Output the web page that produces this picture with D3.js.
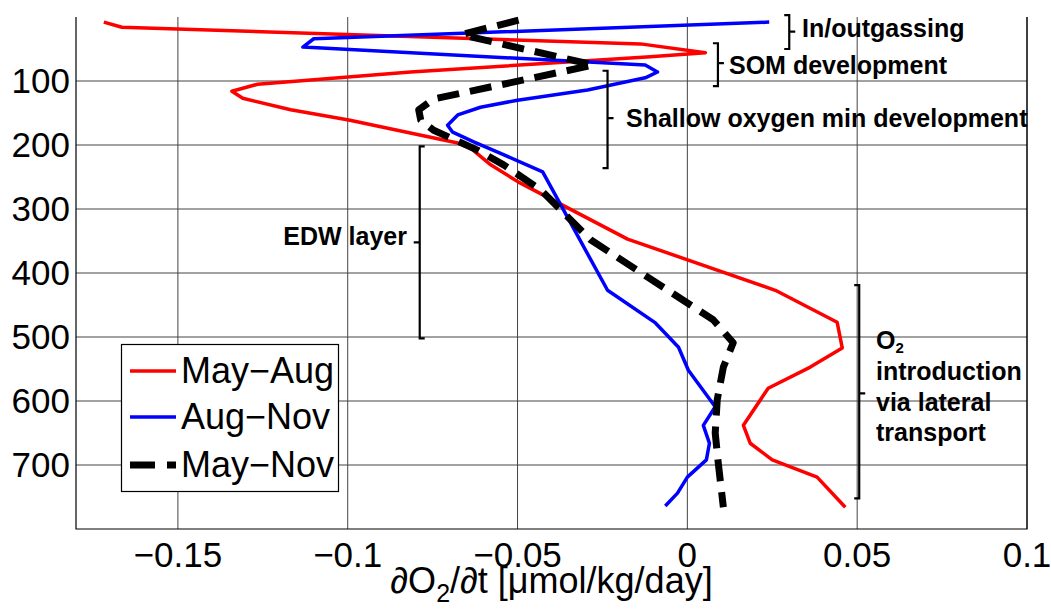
<!DOCTYPE html>
<html>
<head>
<meta charset="utf-8">
<script src="https://cdn.jsdelivr.net/npm/d3@7"></script>
<style>
  body { margin: 0; background: #fff; }
  svg { display: block; }
  text { font-family: "Liberation Sans", Arial, Helvetica, sans-serif; }
</style>
</head>
<body>
<svg id="chart" width="1051" height="610"></svg>
<script>
// values: dO2/dt (umol/kg/day) vs depth (m)
var mayAugRate  = [-0.1718, -0.1665, -0.0138, 0.0053, -0.0109, -0.0815, -0.1265, -0.1341, -0.1309, -0.1168, -0.0997, -0.0676, -0.0638, -0.0579, -0.0497, -0.0176, 0.0259, 0.0441, 0.0456, 0.0362, 0.0238, 0.0165, 0.0185, 0.0250, 0.0382, 0.0465];
var mayAugDepth = [8, 16, 42, 56, 62, 86, 105, 116, 127, 145, 161, 197, 205, 231, 258, 347, 427, 477, 517, 547, 580, 638, 666, 692, 719, 766];

var augNovRate  = [0.0241, -0.1100, -0.1132, -0.0124, -0.0088, -0.0124, -0.0294, -0.0500, -0.0609, -0.0676, -0.0706, -0.0691, -0.0629, -0.0550, -0.0426, -0.0235, -0.0094, -0.0026, 0.0003, 0.0082, 0.0047, 0.0065, 0.0056, 0.0000, -0.0029, -0.0065];
var augNovDepth = [8, 34, 47, 75, 86, 95, 114, 130, 141, 153, 169, 180, 195, 213, 242, 427, 478, 516, 552, 609, 638, 666, 692, 719, 744, 764];

var mayNovRate  = [-0.0497, -0.0662, -0.0638, -0.0276, -0.0550, -0.0747, -0.0791, -0.0785, -0.0747, -0.0618, -0.0541, -0.0432, -0.0285, -0.0118, 0.0076, 0.0135, 0.0106, 0.0088, 0.0082, 0.0091, 0.0106];
var mayNovDepth = [5, 27, 31, 75, 106, 128, 145, 161, 177, 208, 231, 270, 348, 406, 473, 509, 547, 598, 650, 697, 766];

var seriesNames = ["May\u2212Aug", "Aug\u2212Nov", "May\u2212Nov"];
var xTicks = [-0.15, -0.1, -0.05, 0, 0.05, 0.1];
var xTickLabels = ["\u22120.15", "\u22120.1", "\u22120.05", "0", "0.05", "0.1"];
var yTicks = [100, 200, 300, 400, 500, 600, 700];

var svg = d3.select("#chart");
var x = d3.scaleLinear().domain([-0.18, 0.1]).range([76, 1027]);
var y = d3.scaleLinear().domain([0, 800]).range([17, 529]);

// grid lines
var grid = svg.append("g");
grid.selectAll(".gx").data(xTicks).enter().append("line")
    .attr("x1", function (d) { return x(d); }).attr("x2", function (d) { return x(d); })
    .attr("y1", y(0)).attr("y2", y(800))
    .attr("stroke", "#444").attr("stroke-width", 1);
grid.selectAll(".gy").data(yTicks).enter().append("line")
    .attr("x1", x(-0.18)).attr("x2", x(0.1))
    .attr("y1", function (d) { return y(d); }).attr("y2", function (d) { return y(d); })
    .attr("stroke", "#444").attr("stroke-width", 1);

// axis frame (left + bottom)
svg.append("path")
    .attr("d", "M" + x(-0.18) + "," + y(0) + "V" + y(800) + "H" + x(0.1) + "V" + y(0))
    .attr("fill", "none").attr("stroke", "#000").attr("stroke-width", 1.2);

// tick labels
svg.selectAll(".xl").data(xTicks).enter().append("text")
    .attr("x", function (d) { return x(d); })
    .attr("y", 567)
    .attr("text-anchor", "middle")
    .attr("font-size", 35)
    .text(function (d, i) { return xTickLabels[i]; });
svg.selectAll(".yl").data(yTicks).enter().append("text")
    .attr("x", 70)
    .attr("y", function (d) { return y(d) + 12; })
    .attr("text-anchor", "end")
    .attr("font-size", 35)
    .text(function (d) { return d; });

// x axis label (overlaps the tick labels, like the original)
var xl = svg.append("text")
    .attr("x", (x(-0.18) + x(0.1)) / 2)
    .attr("y", 593)
    .attr("text-anchor", "middle")
    .attr("font-size", 36);
xl.append("tspan").text("\u2202O");
xl.append("tspan").attr("font-size", 25).attr("dy", 9).text("2");
xl.append("tspan").attr("dy", -9).text("/\u2202t [\u03bcmol/kg/day]");

// profiles
function pairs(rate, depth) {
    return rate.map(function (r, i) { return [r, depth[i]]; });
}
var line = d3.line()
    .x(function (d) { return x(d[0]); })
    .y(function (d) { return y(d[1]); });

svg.append("path").datum(pairs(mayAugRate, mayAugDepth))
    .attr("d", line).attr("fill", "none")
    .attr("stroke", "#ff0000").attr("stroke-width", 3.5).attr("stroke-linejoin", "round");
svg.append("path").datum(pairs(augNovRate, augNovDepth))
    .attr("d", line).attr("fill", "none")
    .attr("stroke", "#0000ff").attr("stroke-width", 3.5).attr("stroke-linejoin", "round");
svg.append("path").datum(pairs(mayNovRate, mayNovDepth))
    .attr("d", line).attr("fill", "none")
    .attr("stroke", "#000").attr("stroke-width", 7)
    .attr("stroke-dasharray", "22,11").attr("stroke-linejoin", "round");

// brackets + annotation text (xv in data units, depths in m)
var notes = [
    { xv: 0.0300, d0: -3, d1: 50, mid: 23, hook: -1, tx: 802, lines: ["In/outgassing"], ty: [37] },
    { xv: 0.0090, d0: 41, d1: 108, mid: 72, hook: -1, tx: 729, lines: ["SOM development"], ty: [74] },
    { xv: -0.0235, d0: 84, d1: 236, mid: 158, hook: -1, tx: 626, lines: ["Shallow oxygen min development"], ty: [127] },
    { xv: -0.0788, d0: 202, d1: 502, mid: 352, hook: 1, tx: 407, lines: ["EDW layer"], ty: [245], anchor: "end" },
    { xv: 0.0506, d0: 419, d1: 752, mid: 588, hook: -1, tx: 876, lines: ["O2", "introduction", "via lateral", "transport"], ty: [349, 380, 411, 441] }
];

notes.forEach(function (n) {
    var bx = x(n.xv), y0 = y(n.d0), y1 = y(n.d1), ym = y(n.mid);
    var h = 5 * n.hook;
    svg.append("path")
        .attr("d", "M" + (bx + h) + "," + y0 + "H" + bx + "V" + y1 + "H" + (bx + h) +
            "M" + bx + "," + ym + "H" + (bx - 6 * n.hook))
        .attr("fill", "none").attr("stroke", "#000").attr("stroke-width", 2.2);
    n.lines.forEach(function (t, i) {
        var tt = svg.append("text")
            .attr("x", n.tx).attr("y", n.ty[i])
            .attr("text-anchor", n.anchor || "start")
            .attr("font-size", 25).attr("font-weight", "bold");
        if (t == "O2") {
            tt.append("tspan").text("O");
            tt.append("tspan").attr("font-size", 15).attr("dy", 4).text("2");
        } else {
            tt.text(t);
        }
    });
});

// legend
var lg = svg.append("g");
lg.append("rect").attr("x", 121.5).attr("y", 344.5).attr("width", 217).attr("height", 147)
    .attr("fill", "#fff").attr("stroke", "#000").attr("stroke-width", 1.2);
var legColors = ["#ff0000", "#0000ff", "#000"];
var legY = [371, 417, 465];
seriesNames.forEach(function (name, i) {
    var l = lg.append("line")
        .attr("x1", 130).attr("x2", 176).attr("y1", legY[i]).attr("y2", legY[i])
        .attr("stroke", legColors[i]).attr("stroke-width", i == 2 ? 7 : 3.5);
    if (i == 2) l.attr("stroke-dasharray", "25,12");
    lg.append("text").attr("x", 181).attr("y", legY[i] + 12)
        .attr("font-size", 36).text(name);
});
</script>
</body>
</html>
